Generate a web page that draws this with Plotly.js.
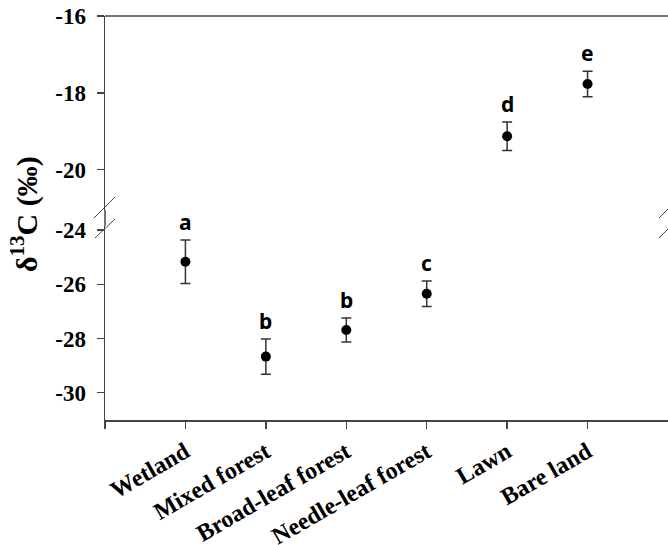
<!DOCTYPE html>
<html><head><meta charset="utf-8">
<script src="https://cdn.plot.ly/plotly-3.0.1.min.js"></script>
<style>html,body{margin:0;padding:0;background:#fff}#chart{width:668px;height:545px}</style>
</head><body><div id="chart"></div>
<script>
const categories = ['Wetland','Mixed forest','Broad-leaf forest','Needle-leaf forest','Lawn','Bare land'];
const meanValues = [-25.17, -28.67, -27.69, -26.35, -19.13, -17.77];
const errorValues = [0.80, 0.65, 0.44, 0.47, 0.37, 0.33];
const groupLetters = ['a','b','b','c','d','e'];
const lowerTicks = [-30, -28, -26, -24];
const upperTicks = [-20, -18, -16];
const lowerRange = [-31.01, -23.85];
const upperRange = [-21.05, -16];

const W = 668, H = 545;
const M = {l: 105, r: 0, t: 16, b: 125};
const PW = W - M.l - M.r, PH = H - M.t - M.b;
const px = x => (x - M.l) / PW;
const py = y => (H - M.b - y) / PH;
const lowerDomain = [0, py(226)];
const upperDomain = [py(210), 1];

const axisColor = '#444';
const serif = 'Liberation Serif, Times New Roman, serif';
const tickFontY = {family: serif, size: 23, color: '#000', weight: 'bold'};
const tickFontX = {family: serif, size: 24, color: '#000', weight: 'bold'};
const label = v => String(v).replace('\u2212', '-');

function segment(isUpper) {
  const xs = [], ys = [], es = [];
  meanValues.forEach((v, i) => {
    if ((v > lowerRange[1]) === isUpper) { xs.push(i); ys.push(v); es.push(errorValues[i]); }
  });
  return {
    type: 'scatter', mode: 'markers', x: xs, y: ys, yaxis: isUpper ? 'y2' : 'y',
    marker: {color: '#000', size: 10},
    error_y: {type: 'data', array: es, visible: true, color: '#333', thickness: 1.5, width: 5},
    hoverinfo: 'skip', showlegend: false
  };
}

const annotations = meanValues.map((v, i) => ({
  x: i, y: v + errorValues[i], xref: 'x', yref: v > lowerRange[1] ? 'y2' : 'y',
  text: groupLetters[i], showarrow: false, yanchor: 'bottom', xanchor: 'center', yshift: 2,
  font: {family: 'Noto Sans, Open Sans, sans-serif', size: 21, color: '#000', weight: 'bold'}
}));
annotations.push({
  x: px(24), y: py(214), xref: 'paper', yref: 'paper', showarrow: false, textangle: -90,
  xanchor: 'center', yanchor: 'middle',
  text: 'δ<sup>13</sup>C (‰)',
  font: {family: serif, size: 30, color: '#000', weight: 'bold'}
});

const ln = (x0, y0, x1, y1, w) => ({type: 'line', xref: 'paper', yref: 'paper',
  x0: px(x0), y0: py(y0), x1: px(x1), y1: py(y1), line: {color: axisColor, width: w || 1}});

const shapes = [
  {type: 'line', xref: 'paper', yref: 'paper', x0: 0, x1: 1, y0: 1, y1: 1, line: {color: axisColor, width: 1.5}},
  {type: 'line', xref: 'paper', yref: 'paper', x0: 0, x1: 0, y0: lowerDomain[1], y1: upperDomain[0], line: {color: axisColor, width: 1.5}},
  ln(94, 218, 115, 197), ln(95, 238, 115, 219),
  ln(659, 218, 670, 207), ln(659, 238, 670, 227)
];

const yCommon = {
  ticks: 'outside', ticklen: 7, tickcolor: axisColor, tickwidth: 1.5,
  showline: true, linecolor: axisColor, linewidth: 1.5, showgrid: false, zeroline: false,
  tickfont: tickFontY, anchor: 'x', ticklabelstandoff: 6, fixedrange: true, tickmode: 'array'
};

const layout = {
  width: W, height: H, margin: M, paper_bgcolor: '#fff', plot_bgcolor: '#fff', showlegend: false,
  xaxis: {
    range: [-1, 6], tickmode: 'array',
    tickvals: [-1].concat(categories.map((c, i) => i)), ticktext: [''].concat(categories),
    tickangle: -30, ticks: 'outside', ticklen: 7, tickcolor: axisColor, tickwidth: 1.5,
    showline: true, linecolor: axisColor, linewidth: 1.5, showgrid: false, zeroline: false,
    tickfont: tickFontX, anchor: 'y', fixedrange: true
  },
  yaxis: Object.assign({}, yCommon, {domain: lowerDomain, range: lowerRange,
    tickvals: lowerTicks, ticktext: lowerTicks.map(label)}),
  yaxis2: Object.assign({}, yCommon, {domain: upperDomain, range: upperRange,
    tickvals: upperTicks, ticktext: upperTicks.map(label)}),
  annotations: annotations,
  shapes: shapes
};

Plotly.newPlot('chart', [segment(false), segment(true)], layout, {displayModeBar: false, staticPlot: true});
</script>
</body></html>
